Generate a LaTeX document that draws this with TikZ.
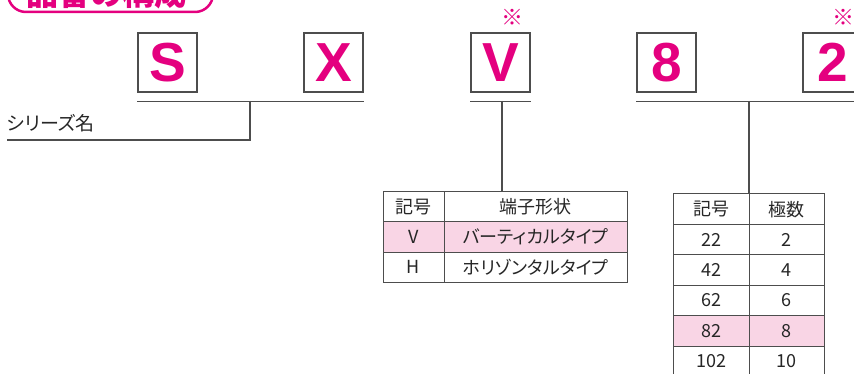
\documentclass[tikz,border=0pt]{standalone}
\usepackage{fontspec}
\setmainfont{Liberation Sans}
\newfontfamily\jp{Noto Sans CJK JP}
\newfontfamily\jpp[RawFeature=+palt]{Noto Sans CJK JP}
\definecolor{mag}{HTML}{E4007F}
\definecolor{lpink}{HTML}{F9D5E5}
\definecolor{rule}{HTML}{4D4D4D}
\tikzset{
  partbox/.style={draw=rule, line width=1.3pt, minimum size=59pt, inner sep=0pt,
    text=mag, font=\fontsize{55}{55}\selectfont\bfseries},
  cell/.style={inner sep=0pt, font=\jpp\fontsize{18}{20}\selectfont, text=black!85},
  kome/.style={inner sep=0pt, text=mag, font=\jp\fontsize{22}{22}\selectfont}
}
\begin{document}
\begin{tikzpicture}[x=1pt,y=-1pt]
  \useasboundingbox (0,0) rectangle (854,374);
  \clip (0,0) rectangle (854,374);

  % title (cut at the top edge)
  \draw[mag, line width=2.5pt, rounded corners=18pt] (8,-30) rectangle (213,12);
  \node[text=mag, font=\jp\fontsize{32}{32}\selectfont\bfseries] (title) at (107,-7) {品番の構成};

  % part letters
  \foreach \x/\ch/\nm in {167.5/S/s,333.5/X/x,500.5/V/v,666.5/8/p,832.5/2/q}
    \node[partbox] (\nm) at (\x,62.5) {\ch};
  \node[kome] (k1) at (512.5,17.5) {※};
  \node[kome] (k2) at (843,17.5) {※};

  % brackets under the letters
  \draw[rule, line width=1.3pt] ([yshift=-9pt]s.south west) -- ([yshift=-9pt]x.south east);
  \draw[rule, line width=1.3pt] ([yshift=-9pt]v.south west) -- ([yshift=-9pt]v.south east);
  \draw[rule, line width=1.3pt] ([yshift=-9pt]p.south west) -- ([yshift=-9pt]q.south east);

  % series name
  \coordinate (sx) at (250,101);
  \coordinate (name) at (7,140);
  \draw[rule, line width=1.2pt] (sx) |- (name);
  \node[cell, anchor=base west, font=\jpp\fontsize{19}{20}\selectfont] (series) at (7,131) {シリーズ名};

  % terminal table
  \coordinate (vx) at (502,101);
  \coordinate (tv) at (502,192);
  \draw[rule, line width=1.2pt] (vx) -- (tv);
  \fill[lpink] (383,222) rectangle (627,252);
  \draw[rule, line width=1pt] (383,192) rectangle (627,282);
  \draw[rule, line width=1pt] (444,192) -- (444,282);
  \foreach \y in {222,252}
    \draw[rule, line width=1pt] (383,\y) -- (627,\y);
  \foreach \y/\a/\b/\i in {207/記号/端子形状/1,237/V/バーティカルタイプ/2,267/H/ホリゾンタルタイプ/3}{
    \node[cell] (ta\i) at (413.5,\y) {\a};
    \node[cell] (tb\i) at (535.5,\y) {\b};
  }

  % pole table
  \coordinate (px) at (749,101);
  \coordinate (tp) at (749,194);
  \draw[rule, line width=1.2pt] (px) -- (tp);
  \fill[lpink] (673,315.6) rectangle (824,346);
  \draw[rule, line width=1pt] (673,380) -- (673,194) -- (824,194) -- (824,380);
  \draw[rule, line width=1pt] (749,194) -- (749,380);
  \foreach \i in {1,...,5}
    \draw[rule, line width=1pt] (673,194+30.4*\i) -- (824,194+30.4*\i);
  \foreach \a/\b/\i in {記号/極数/0,22/2/1,42/4/2,62/6/3,82/8/4,102/10/5}{
    \node[cell] (pa\i) at (711,209.2+30.4*\i) {\a};
    \node[cell] (pb\i) at (786.5,209.2+30.4*\i) {\b};
  }
\end{tikzpicture}
\end{document}
